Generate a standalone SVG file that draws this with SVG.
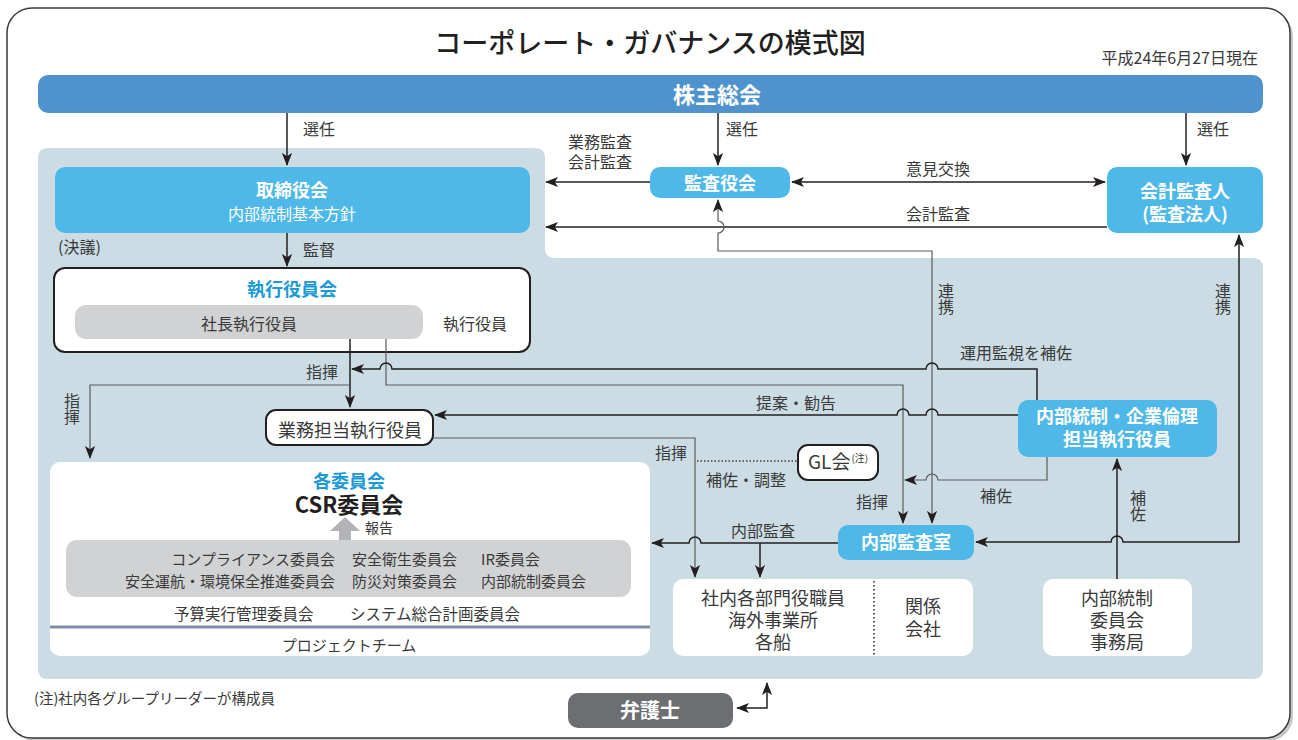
<svg xmlns="http://www.w3.org/2000/svg" width="1298" height="740" viewBox="0 0 1298 740">
<defs>
<style>
text{font-family:"Noto Sans CJK JP","Noto Sans CJK SC",sans-serif}
.lbl{font-size:16px;fill:#3a3a3a}
.vt{writing-mode:vertical-rl;text-anchor:start}
.mid{text-anchor:middle}
.wb{fill:#fff;font-weight:bold;font-size:18px;text-anchor:middle}
.sky{fill:#4EB8E8}
.ln{fill:none;stroke:#231F20;stroke-width:1.5}
.lg{fill:none;stroke:#5a5b5d;stroke-width:1.2}
.wbox{fill:#fff}
.ebox{fill:#fff;stroke:#231F20;stroke-width:2}
.gray{fill:#D1D2D3}
.txt18{font-size:18px;fill:#3a3a3a;text-anchor:middle}
.cm{font-size:15px;fill:#3a3a3a}
</style>
<marker id="ah" viewBox="0 0 14 12" markerWidth="13" markerHeight="12" refX="13" refY="6" orient="auto-start-reverse" markerUnits="userSpaceOnUse">
<path d="M0,0.5 L14,6 L0,11.5 L3.5,6 Z" fill="#231F20"/>
</marker>
</defs>

<!-- frame -->
<rect x="10" y="11" width="1283" height="730" rx="25" fill="#c8c8c8"/>
<rect x="7" y="8" width="1283" height="730" rx="25" fill="#fff" stroke="#3a3a3a" stroke-width="1.5"/>

<!-- title -->
<text x="650" y="53" text-anchor="middle" font-size="27" font-weight="500" fill="#231F20">コーポレート・ガバナンスの模式図</text>
<text x="1258" y="64" text-anchor="end" font-size="16" fill="#3a3a3a">平成24年6月27日現在</text>

<!-- background region -->
<path d="M48,148 H535 Q545,148 545,158 V248 Q545,258 555,258 H1253 Q1263,258 1263,268 V669 Q1263,679 1253,679 H48 Q38,679 38,669 V158 Q38,148 48,148 Z" fill="#CCDCE4"/>

<!-- shareholders -->
<g id="shareholders">
<rect x="38" y="75" width="1225" height="38" rx="10" fill="#4F93CE"/>
<text x="717" y="103" class="wb" style="font-size:22px">株主総会</text>
</g>

<g id="board">
<rect x="55" y="167" width="475" height="66" rx="10" class="sky"/>
<text class="wb"><tspan x="292" y="197">取締役会</tspan><tspan x="292" y="220" style="font-size:16px;font-weight:normal">内部統制基本方針</tspan></text>
</g>

<g id="auditors">
<rect x="650" y="167" width="140" height="31" rx="10" class="sky"/>
<text x="720" y="190" class="wb">監査役会</text>
</g>

<g id="accounting-auditor">
<rect x="1107" y="167" width="156" height="66" rx="10" class="sky"/>
<text class="wb"><tspan x="1185" y="198">会計監査人</tspan><tspan x="1185" y="221">(監査法人)</tspan></text>
</g>

<g id="exec-committee">
<rect x="54" y="268" width="476" height="84" rx="11" class="ebox"/>
<text x="292" y="296" text-anchor="middle" font-size="18" font-weight="bold" fill="#1B9AD6">執行役員会</text>
<rect x="75" y="305" width="348" height="34" rx="11" class="gray"/>
<text x="249" y="330" class="lbl mid">社長執行役員</text>
<text x="475" y="330" class="lbl mid">執行役員</text>
</g>

<g id="business-exec">
<rect x="266" y="410" width="167" height="35" rx="10" class="ebox"/>
<text x="350" y="437" class="txt18">業務担当執行役員</text>
</g>

<g id="gl">
<rect x="798" y="445" width="80" height="35" rx="10" class="ebox"/>
<text x="808" y="469" font-size="19" fill="#3a3a3a">GL会<tspan font-size="10" dy="-7" dx="1">(注)</tspan></text>
</g>

<g id="ic-exec">
<rect x="1018" y="400" width="199" height="57" rx="10" class="sky"/>
<text class="wb"><tspan x="1117" y="423">内部統制・企業倫理</tspan><tspan x="1117" y="446">担当執行役員</tspan></text>
</g>

<g id="internal-audit">
<rect x="838" y="525" width="136" height="35" rx="10" class="sky"/>
<text x="906" y="549" class="wb">内部監査室</text>
</g>

<g id="committees">
<rect x="50" y="462" width="600" height="194" rx="10" class="wbox"/>
<text text-anchor="middle" font-weight="bold"><tspan x="349" y="488" font-size="18" fill="#1B9AD6">各委員会</tspan><tspan x="349" y="513" font-size="22" fill="#231F20">CSR委員会</tspan></text>
<path d="M345,517 L360,531 L351,531 L351,540 L339,540 L339,531 L330,531 Z" fill="#B1B3B6"/>
<text x="365" y="533" font-size="14" fill="#3a3a3a">報告</text>
<rect x="66" y="540" width="565" height="57" rx="11" class="gray"/>
<text class="cm" text-anchor="end"><tspan x="335" y="565">コンプライアンス委員会</tspan><tspan x="335" y="587">安全運航・環境保全推進委員会</tspan></text>
<text class="cm"><tspan x="352" y="565">安全衛生委員会</tspan><tspan x="352" y="587">防災対策委員会</tspan></text>
<text class="cm"><tspan x="481" y="565">IR委員会</tspan><tspan x="481" y="587">内部統制委員会</tspan></text>
<text class="cm" style="font-size:15.5px"><tspan x="174" y="620">予算実行管理委員会</tspan><tspan x="350" y="620">システム総合計画委員会</tspan></text>
<line x1="50" y1="627" x2="650" y2="627" stroke="#7C8FA6" stroke-width="3"/>
<text x="349" y="651" class="cm" text-anchor="middle">プロジェクトチーム</text>
</g>

<g id="departments">
<rect x="673" y="579" width="300" height="77" rx="10" class="wbox"/>
<line x1="874" y1="581" x2="874" y2="656" stroke="#231F20" stroke-width="1.5" stroke-dasharray="1.5 2.5"/>
<text class="txt18"><tspan x="773" y="605">社内各部門役職員</tspan><tspan x="773" y="627">海外事業所</tspan><tspan x="773" y="649">各船</tspan></text>
<text class="txt18"><tspan x="923" y="613">関係</tspan><tspan x="923" y="636">会社</tspan></text>
</g>

<g id="ic-secretariat">
<rect x="1043" y="579" width="149" height="77" rx="10" class="wbox"/>
<text class="txt18"><tspan x="1117" y="605">内部統制</tspan><tspan x="1117" y="627">委員会</tspan><tspan x="1117" y="649">事務局</tspan></text>
</g>

<g id="lawyer">
<rect x="568" y="693" width="165" height="35" rx="10" fill="#6D6E71"/>
<text x="650" y="718" class="wb" style="font-size:20px">弁護士</text>
</g>

<!-- connectors -->
<g id="connectors">
<path class="ln" d="M287,113 V165" marker-end="url(#ah)"/>
<path class="ln" d="M718,113 V165" marker-end="url(#ah)"/>
<path class="ln" d="M1186,113 V165" marker-end="url(#ah)"/>
<path class="ln" d="M287,233 V266" marker-end="url(#ah)"/>
<path class="ln" d="M650,182 H546" marker-end="url(#ah)"/>
<path class="ln" d="M792,182 H1105" marker-start="url(#ah)" marker-end="url(#ah)"/>
<path class="ln" d="M1107,227 H546" marker-end="url(#ah)"/>
<path class="lg" d="M932,523 V251 H718 V233 A6 6 0 0 0 718 221 V200" marker-start="url(#ah)" marker-end="url(#ah)"/>
<path class="ln" d="M350,339 V407" marker-end="url(#ah)"/>
<path class="lg" d="M350,385 H90 V458" marker-end="url(#ah)"/>
<path class="lg" d="M386,339 V385 H903 V523" marker-end="url(#ah)"/>
<path class="ln" d="M1037,400 V369 H938 A6 6 0 0 0 926 369 H392 A6 6 0 0 0 380 369 H352" marker-end="url(#ah)"/>
<path class="ln" d="M1018,415 H938 A6 6 0 0 0 926 415 H909 A6 6 0 0 0 897 415 H435" marker-end="url(#ah)"/>
<path class="lg" d="M433,438 H695 V577" marker-end="url(#ah)"/>
<line x1="697" y1="461" x2="798" y2="461" stroke="#3a3a3a" stroke-width="1.5" stroke-dasharray="1.5 2"/>
<path class="lg" d="M1047,457 V480 H938 A6 6 0 0 0 926 480 H905" marker-end="url(#ah)"/>
<path class="ln" d="M838,543 H701 A6 6 0 0 0 689 543 H652" marker-end="url(#ah)"/>
<path class="ln" d="M760,543 V577" marker-end="url(#ah)"/>
<path class="ln" d="M976,542 H1111 A6 6 0 0 1 1123 542 H1239 V235" marker-start="url(#ah)" marker-end="url(#ah)"/>
<path class="ln" d="M1117,579 V459" marker-end="url(#ah)"/>
<path class="ln" d="M737,708 H767 V683" marker-start="url(#ah)" marker-end="url(#ah)"/>
</g>

<!-- connector labels -->
<g id="labels" class="lbl">
<text x="303" y="135">選任</text>
<text x="726" y="135">選任</text>
<text x="1197" y="135">選任</text>
<text text-anchor="middle"><tspan x="600" y="148">業務監査</tspan><tspan x="600" y="168">会計監査</tspan></text>
<text x="938" y="175" text-anchor="middle">意見交換</text>
<text x="938" y="220" text-anchor="middle">会計監査</text>
<text x="58" y="253">(決議)</text>
<text x="303" y="256">監督</text>
<text x="322" y="378" text-anchor="middle">指揮</text>
<text x="72" y="393" class="vt">指揮</text>
<text x="946" y="283" class="vt">連携</text>
<text x="1223" y="283" class="vt">連携</text>
<text x="1016" y="359" text-anchor="middle">運用監視を補佐</text>
<text x="796" y="409" text-anchor="middle">提案・勧告</text>
<text x="671" y="459" text-anchor="middle">指揮</text>
<text x="746" y="486" text-anchor="middle">補佐・調整</text>
<text x="872" y="508" text-anchor="middle">指揮</text>
<text x="996" y="502" text-anchor="middle">補佐</text>
<text x="1138" y="490" class="vt">補佐</text>
<text x="763" y="537" text-anchor="middle">内部監査</text>
<text x="34" y="704" style="font-size:14.5px">(注)社内各グループリーダーが構成員</text>
</g>
</svg>
